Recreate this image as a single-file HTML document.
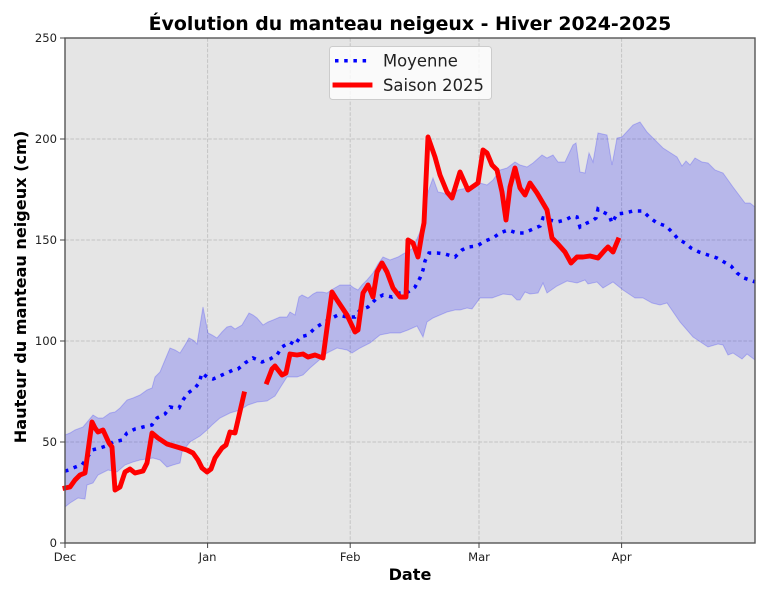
<!DOCTYPE html>
<html><head><meta charset="utf-8"><style>
html,body{margin:0;padding:0;background:#fff;}
svg{display:block;}
text{font-family:"DejaVu Sans","Liberation Sans",sans-serif;}
</style></head><body>
<svg width="768" height="597" viewBox="0 0 768 597" xmlns="http://www.w3.org/2000/svg">
<rect width="768" height="597" fill="#fff"/>
<rect x="65" y="38" width="690" height="505" fill="#e5e5e5"/>
<g stroke="#c4c4c4" stroke-width="1" stroke-dasharray="3.7 1.6" fill="none">
<line x1="65" y1="442" x2="755" y2="442"/>
<line x1="65" y1="341" x2="755" y2="341"/>
<line x1="65" y1="240" x2="755" y2="240"/>
<line x1="65" y1="139" x2="755" y2="139"/>
<line x1="207.6" y1="38" x2="207.6" y2="543"/>
<line x1="350.2" y1="38" x2="350.2" y2="543"/>
<line x1="479" y1="38" x2="479" y2="543"/>
<line x1="621.6" y1="38" x2="621.6" y2="543"/>
</g>
<polygon fill="#0000ff" fill-opacity="0.2" stroke="#0000ff" stroke-opacity="0.2" stroke-width="1" points="65,435 70,433 75,430 83,427 88,421 93,415 98,418 103,418 110,413 115,412 120,408 127,400 133,398 140,395 147,390 152,388 155,377 160,372 165,360 170,348 175,350 180,353 185,345 189,338 193,340 197,344 203,307 208,333 212,335 217,338 222,332 227,327 231,326 235,329 242,325 249,313 253,315 257,318 263,325 268,322 273,320 280,317 287,317 290,312 295,315 299,297 302,295 308,298 313,294 317,292 322,292 327,293 333,289 340,285 345,285 350,285 354,288 358,290 362,285 367,280 373,273 378,264 383,257 390,260 398,257 403,254 407,252 413,248 420,232 424,215 428,192 433,178 438,192 443,193 450,197 458,190 467,188 473,185 480,183 487,185 493,180 500,170 507,168 515,162 520,165 527,167 533,163 542,155 547,158 553,155 558,162 565,162 573,145 576,143 580,172 585,173 589,153 593,162 598,133 607,135 612,165 617,138 622,137 633,125 640,122 647,132 653,138 663,148 677,157 682,166 686,161 690,165 695,158 702,162 708,163 715,170 723,173 733,187 745,203 750,203 755,207 755,360 747,354 742,359 733,353 728,355 723,345 718,344 708,347 693,337 680,322 667,303 660,305 652,303 643,298 635,298 623,290 613,282 603,288 597,282 588,284 585,280 577,283 567,281 557,286 547,293 543,283 538,293 530,294 525,292 520,300 517,300 512,295 503,294 492,298 480,298 472,309 467,308 460,310 455,310 447,312 440,315 433,318 427,322 423,337 417,326 408,330 400,333 390,333 380,335 370,343 360,348 352,353 347,350 337,348 327,353 317,362 310,368 303,375 297,377 287,377 280,388 275,396 267,401 257,402 248,405 240,410 230,413 220,418 212,425 207,430 200,436 190,442 182,452 180,463 173,465 167,467 160,460 153,458 140,460 133,462 125,465 117,472 108,470 98,475 93,483 87,485 85,499 78,498 70,503 65,507"/>
<polyline fill="none" stroke="#0000ff" stroke-width="3.5" stroke-dasharray="3.5 5.7" stroke-linecap="butt" points="65,471 69,470 73,468 78,466 82,465 87,458 92,450 96,449 100,448 106,446 113,442 118,441 122,440 127,433 131,431 135,429 140,428 143,427 148,426 152,425 157,418 161,416 165,414 170,407 175,408 179,408 183,400 188,393 195,388 199,383 202,373 207,377 213,379 218,377 222,375 229,372 233,370 238,369 245,363 253,358 258,360 262,362 270,359 277,355 282,347 290,342 295,345 300,337 308,335 315,328 323,323 332,318 338,315 347,317 355,317 360,310 368,307 377,298 383,295 392,297 400,293 408,292 415,287 420,278 423,270 425,261 429,253 437,253 445,254 455,257 462,250 468,247 477,246 485,241 493,238 500,233 508,230 517,233 524,233 533,229 540,226 543,218 550,220 557,222 565,220 573,216 577,217 580,227 587,223 592,221 596,218 598,209 603,212 609,215 612,223 617,214 625,213 633,211 643,211 649,217 657,223 666,226 673,233 678,239 685,243 691,248 699,252 708,255 717,258 724,262 731,266 737,273 744,278 753,281 755,282"/>
<g fill="none" stroke="#ff0000" stroke-width="4.9" stroke-linejoin="round" stroke-linecap="square">
<polyline points="65,488 70,487 75,480 80,475 85,473 92,422 95,428 98,432 103,430 109,443 112,447 115,490 120,487 125,472 130,469 135,473 143,471 147,463 152,433 158,438 167,444 177,447 187,450 193,453 198,460 202,468 207,472 211,469 215,458 222,448 226,445 230,432 235,433 244,394"/>
<polyline points="267,382 272,369 275,366 282,375 286,373 290,354 297,355 303,354 308,357 315,355 323,358 327,328 332,292 337,300 347,315 355,332 358,330 363,293 368,285 373,297 377,272 382,263 387,272 393,288 400,297 406,297 408,240 413,243 418,257 422,233 424,223 428,137 435,157 440,175 447,192 452,198 460,172 468,190 478,183 483,150 487,153 492,165 497,170 502,192 506,220 510,187 515,168 520,188 525,195 530,183 537,193 547,210 552,238 557,243 565,252 571,263 577,257 583,257 590,256 598,258 605,250 608,247 613,252 618,240"/>
</g>
<rect x="65" y="38" width="690" height="505" fill="none" stroke="#555" stroke-width="1.4"/>
<g stroke="#444" stroke-width="1">
<line x1="60" y1="543" x2="65" y2="543"/>
<line x1="60" y1="442" x2="65" y2="442"/>
<line x1="60" y1="341" x2="65" y2="341"/>
<line x1="60" y1="240" x2="65" y2="240"/>
<line x1="60" y1="139" x2="65" y2="139"/>
<line x1="60" y1="38" x2="65" y2="38"/>
<line x1="65" y1="543" x2="65" y2="548"/>
<line x1="207.6" y1="543" x2="207.6" y2="548"/>
<line x1="350.2" y1="543" x2="350.2" y2="548"/>
<line x1="479" y1="543" x2="479" y2="548"/>
<line x1="621.6" y1="543" x2="621.6" y2="548"/>
</g>
<g font-size="11.6" fill="#222" text-anchor="end">
<text x="57" y="547">0</text>
<text x="57" y="446">50</text>
<text x="57" y="345">100</text>
<text x="57" y="244">150</text>
<text x="57" y="143">200</text>
<text x="57" y="42">250</text>
</g>
<g font-size="11.6" fill="#222" text-anchor="middle">
<text x="65" y="561">Dec</text>
<text x="207.6" y="561">Jan</text>
<text x="350.2" y="561">Feb</text>
<text x="479" y="561">Mar</text>
<text x="621.6" y="561">Apr</text>
</g>
<text x="410" y="30" font-size="18.9" font-weight="bold" text-anchor="middle" fill="#000">Évolution du manteau neigeux - Hiver 2024-2025</text>
<text x="410" y="580" font-size="16.1" font-weight="bold" text-anchor="middle" fill="#000">Date</text>
<text transform="translate(26,287) rotate(-90)" font-size="16.1" font-weight="bold" text-anchor="middle" fill="#000">Hauteur du manteau neigeux (cm)</text>
<rect x="329.5" y="46.5" width="162" height="53" rx="3" fill="#ffffff" fill-opacity="0.8" stroke="#cccccc" stroke-width="1"/>
<line x1="335" y1="60.7" x2="371" y2="60.7" stroke="#0000ff" stroke-width="3.5" stroke-dasharray="3.5 5.7"/>
<line x1="335" y1="85" x2="370" y2="85" stroke="#ff0000" stroke-width="4.9" stroke-linecap="square"/>
<text x="383" y="66.5" font-size="16.4" fill="#222">Moyenne</text>
<text x="383" y="91" font-size="16.4" fill="#222">Saison 2025</text>
</svg>
</body></html>
